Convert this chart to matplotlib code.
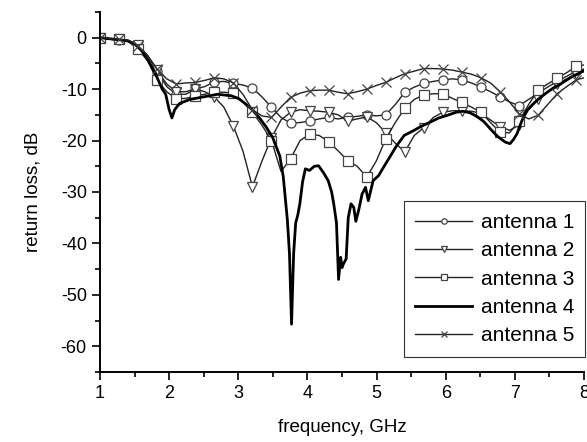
import numpy as np
import matplotlib
matplotlib.use('Agg')
import matplotlib.pyplot as plt
from matplotlib.ticker import MultipleLocator

plt.rcParams['font.family'] = ['Liberation Sans', 'DejaVu Sans']
plt.rcParams['axes.unicode_minus'] = False

# frequency grid (GHz) shared by the marked curves, markers on every 2nd point
freq = list(np.round(1 + 0.13775 * np.arange(51), 4)) + [8.0]

ant1 = [0, -0.3, -0.5, -0.7, -1.5, -3.5, -6.5, -9.5, -11.0, -11.0,
        -10.0, -9.5, -8.6, -8.5, -8.9, -9.2, -9.8, -11.5, -13.5, -15.5,
        -16.6, -16.5, -16.2, -15.8, -15.5, -15.8, -15.5, -15.3, -15.0, -15.2,
        -15.0, -13.0, -10.6, -9.6, -8.9, -8.5, -8.2, -8.0, -8.2, -8.8,
        -9.6, -10.5, -11.5, -12.5, -13.2, -12.0, -10.8, -9.6, -8.5, -7.5,
        -6.5, -6.1]

ant2 = [0, -0.2, -0.3, -0.6, -1.4, -3.5, -6.3, -9.0, -10.5, -10.5,
        -10.0, -10.5, -11.5, -13.5, -17.2, -22.0, -29.0, -24.0, -19.5, -16.0,
        -14.5, -14.0, -14.2, -14.3, -14.5, -15.0, -16.2, -15.8, -15.4, -16.5,
        -18.5, -20.5, -22.2, -19.0, -17.5, -15.5, -14.5, -14.2, -14.2, -14.3,
        -14.7, -16.0, -17.3, -18.0, -17.0, -14.0, -12.0, -10.5, -9.0, -8.0,
        -7.0, -6.6]

ant3 = [0, -0.2, -0.3, -0.8, -2.2, -4.5, -8.3, -10.5, -11.9, -11.8,
        -11.3, -11.0, -10.6, -10.6, -10.8, -12.5, -14.5, -17.0, -20.0, -26.0,
        -23.6, -20.0, -18.8, -19.0, -20.2, -22.0, -23.9, -25.0, -27.1, -24.0,
        -19.7, -16.5, -13.7, -12.0, -11.1, -10.9, -10.9, -11.8, -12.6, -13.5,
        -14.5, -16.5, -18.4, -18.5, -16.2, -13.0, -10.2, -9.0, -7.9, -6.8,
        -5.6, -5.3]

ant5 = [0, -0.2, -0.3, -0.5, -1.6, -3.5, -6.1, -8.0, -9.0, -8.8,
        -8.7, -8.3, -7.8, -8.0, -8.8, -11.0, -14.0, -15.2, -15.5, -13.5,
        -11.6, -10.8, -10.3, -10.2, -10.2, -10.6, -10.9, -10.5, -10.0, -9.3,
        -8.7, -7.8, -7.0, -6.5, -6.0, -6.0, -6.1, -6.3, -6.7, -7.1,
        -7.8, -8.8, -10.5, -12.5, -14.8, -15.8, -15.1, -13.0, -10.9, -9.5,
        -8.2, -7.8]

# antenna 4 has no markers and sharp resonances, so it gets its own grid
freq4 = [1.0, 1.2, 1.4, 1.5, 1.6, 1.7, 1.8, 1.9, 1.95, 2.0,
         2.04, 2.08, 2.15, 2.3, 2.5, 2.7, 2.9, 3.0, 3.1, 3.2,
         3.3, 3.4, 3.5, 3.6, 3.65, 3.71, 3.74, 3.77, 3.8, 3.83,
         3.86, 3.89, 3.93, 3.97, 4.03, 4.1, 4.16, 4.23, 4.3, 4.35,
         4.38, 4.42, 4.45, 4.48, 4.5, 4.52, 4.56, 4.59, 4.63, 4.67,
         4.7, 4.74, 4.79, 4.84, 4.88, 4.95, 5.03, 5.1, 5.2, 5.29,
         5.4, 5.53, 5.65, 5.78, 5.9, 6.02, 6.15, 6.25, 6.35, 6.45,
         6.55, 6.65, 6.75, 6.86, 6.93, 6.98, 7.03, 7.1, 7.17, 7.27,
         7.37, 7.5, 7.66, 7.8, 8.0]
ant4 = [0, -0.3, -0.6, -1.2, -2.5, -4.5, -7.0, -10.0, -11.0, -14.0,
        -15.6, -14.0, -12.8, -12.0, -11.5, -11.0, -11.3, -11.8, -12.8, -14.0,
        -15.5, -17.3, -19.5, -23.0, -27.0, -35.5, -42.0, -55.7, -42.0, -36.0,
        -34.5, -32.3, -28.0, -25.5, -25.8, -25.0, -24.9, -26.2, -27.8, -30.0,
        -32.3, -36.0, -47.0, -42.7, -44.7, -44.0, -43.0, -35.0, -32.3, -33.0,
        -35.7, -33.6, -30.4, -29.1, -31.7, -27.8, -26.8, -25.2, -23.0, -21.0,
        -19.0, -18.1, -17.2, -16.4, -15.6, -15.1, -14.5, -14.3, -14.6, -15.3,
        -16.3, -17.8, -19.2, -20.3, -20.6, -19.8, -18.7, -16.2, -14.2, -12.8,
        -11.6, -10.3, -9.0, -7.8, -6.4]

fig = plt.figure(figsize=(5.87, 4.42), dpi=100)
ax = fig.add_axes([0.1704, 0.1584, 0.8245, 0.8145])

thin = dict(color='#222222', lw=1.0, markersize=6.5, markerfacecolor='white',
            markeredgecolor='#444444', markeredgewidth=0.9, markevery=2)
ax.plot(freq, ant1, marker='o', label='antenna 1', **thin)
ax.plot(freq, ant2, marker='v', label='antenna 2', **thin)
ax.plot(freq, ant3, marker='s', label='antenna 3', **thin)
ax.plot(freq4, ant4, color='black', lw=2.0, label='antenna 4')
ax.plot(freq, ant5, marker='x', label='antenna 5', **thin)

ax.set_xlim(1, 8)
ax.set_ylim(-65, 5)
ax.xaxis.set_major_locator(MultipleLocator(1))
ax.xaxis.set_minor_locator(MultipleLocator(0.5))
ax.yaxis.set_major_locator(MultipleLocator(10))
ax.yaxis.set_minor_locator(MultipleLocator(5))
ax.set_yticks(range(-60, 1, 10))
ax.tick_params(which='major', direction='out', length=6, width=1.2, labelsize=13)
ax.tick_params(which='minor', direction='out', length=3.5, width=1.2)

for side in ('top', 'right'):
    ax.spines[side].set_visible(False)
for side in ('left', 'bottom'):
    ax.spines[side].set_linewidth(1.4)

ax.set_xlabel('frequency, GHz', fontsize=13.5, labelpad=12)
ax.set_ylabel('return loss, dB', fontsize=13.5, labelpad=14)

leg = ax.legend(loc='lower right', bbox_to_anchor=(1.003, 0.042), fontsize=15,
                fancybox=False, framealpha=1, edgecolor='#333333',
                handlelength=2.75, labelspacing=0.45, markerscale=0.6,
                borderpad=0.55, handletextpad=0.4, borderaxespad=0)
leg.get_frame().set_linewidth(0.8)

fig.savefig('out.png', dpi=100)
